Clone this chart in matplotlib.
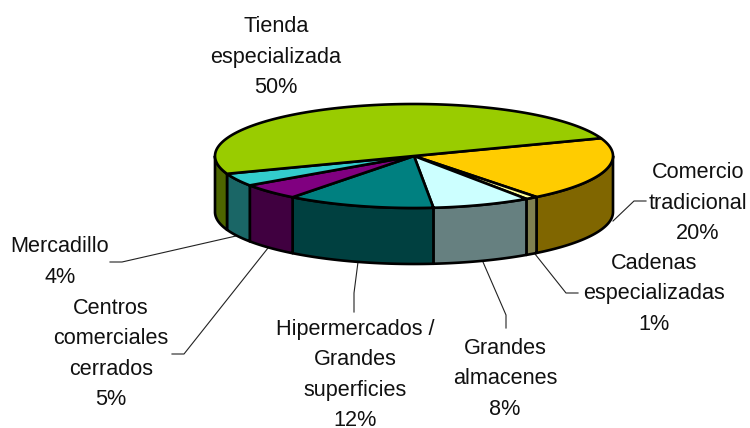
import numpy as np
import matplotlib
matplotlib.use('Agg')
import matplotlib.pyplot as plt

plt.rcParams['font.family'] = ['Liberation Sans', 'DejaVu Sans']

# slices, clockwise from the green/yellow border
labels = ['Comercio\ntradicional\n20%', 'Cadenas\nespecializadas\n1%', 'Grandes\nalmacenes\n8%',
          'Hipermercados /\nGrandes\nsuperficies\n12%', 'Centros\ncomerciales\ncerrados\n5%',
          'Mercadillo\n4%', 'Tienda\nespecializada\n50%']
values = [20, 1, 8, 12, 5, 4, 50]
top_colors = ['#FFCC00', '#FFFF99', '#CCFFFF', '#008080', '#800080', '#33CCCC', '#99CC00']
side_colors = ['#806600', '#808050', '#668080', '#004040', '#400040', '#1A6666', '#4D6600']

label_x = [698, 654, 505, 355, 111, 60, 276]
label_y = [203, 294, 379, 375, 354, 262, 57]

# leader lines (pixel positions)
leaders = [[(613, 221), (634, 201), (646, 201)],
           [(535, 254), (566, 293), (578, 293)],
           [(483, 262), (506, 315), (506, 328)],
           [(358, 262), (354, 293), (354, 312)],
           [(268, 248), (184, 354), (172, 354)],
           [(236, 236), (122, 262), (110, 262)]]

cx, cy, rx, ry, depth = 414, 156, 199, 52, 56
start = 20

fig = plt.figure(figsize=(7.5, 4.28), dpi=100)
ax = fig.add_axes([0, 0, 1, 1])
ax.set_xlim(0, 750)
ax.set_ylim(428, 0)
ax.axis('off')


def rim(a1, a2):
    t = np.radians(np.linspace(a1, a2, 120))
    return cx + rx * np.cos(t), cy - ry * np.sin(t)


edges = start - np.cumsum([0] + values) * 3.6

# sides first
for i, v in enumerate(values):
    a1, a2 = edges[i], edges[i + 1]
    # only the part of the rim facing us (angles from 0 down to -180)
    hi = min(a1, 0)
    lo = max(a2, -180)
    if hi <= lo:
        # green slice wraps round the left hand side
        hi, lo = a1 + 360, -180
        hi = min(hi, 0)
        if hi <= lo:
            continue
    x, y = rim(hi, lo)
    px = np.concatenate([x, x[::-1]])
    py = np.concatenate([y, y[::-1] + depth])
    ax.fill(px, py, facecolor=side_colors[i], edgecolor='black', lw=1.9, joinstyle='round', zorder=2)

for i, v in enumerate(values):
    x, y = rim(edges[i], edges[i + 1])
    ax.fill(np.r_[cx, x], np.r_[cy, y], facecolor=top_colors[i], edgecolor='black', lw=1.9,
            joinstyle='round', zorder=3)

for pts in leaders:
    xs, ys = zip(*pts)
    ax.plot(xs, ys, color='#222222', lw=0.8, zorder=1)

for i, lab in enumerate(labels):
    ax.text(label_x[i], label_y[i], lab, ha='center', va='center', fontsize=15.6, linespacing=1.6,
            color='#111111', zorder=4)

fig.savefig('out.png', dpi=100)
